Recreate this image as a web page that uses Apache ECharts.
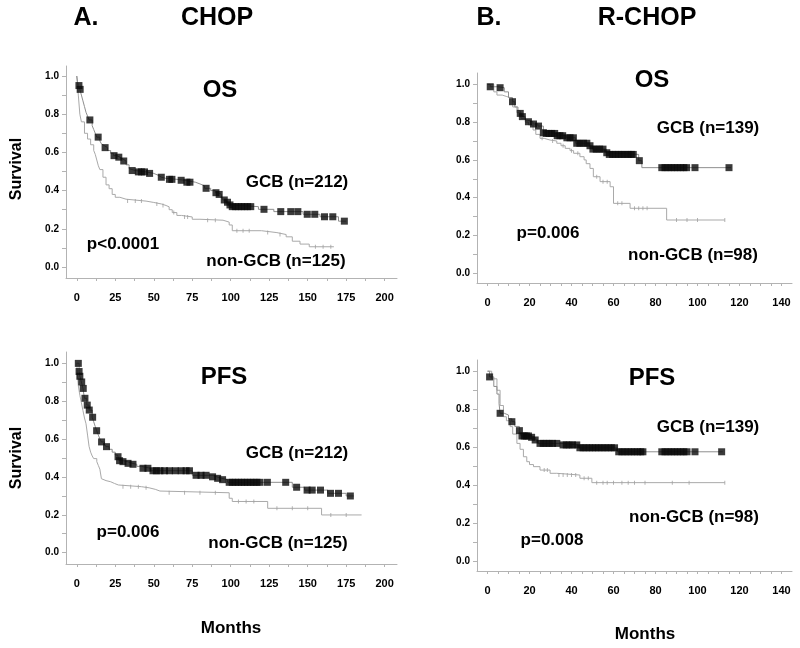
<!DOCTYPE html>
<html>
<head>
<meta charset="utf-8">
<script src="https://cdn.jsdelivr.net/npm/echarts@6/dist/echarts.min.js"></script>
<style>html,body{margin:0;padding:0;background:#fff}#c{width:800px;height:648px}</style>
</head>
<body>
<div id="c"></div>
<script>
// ---------- DATA ----------
const chopTicks = [0, 25, 50, 75, 100, 125, 150, 175, 200];
const rchopTicks = [0, 20, 40, 60, 80, 100, 120, 140];
const survTicks = [0, 0.2, 0.4, 0.6, 0.8, 1.0];

// A. CHOP, OS
const aOsGcbCurve = [[0,1],[0.5,0.97],[1,0.95],[2,0.93],[3,0.90],[4,0.87],[5,0.84],[6,0.81],[7,0.79],[8,0.77],[10,0.74],[11,0.72],[12,0.70],[13,0.68],[15,0.66],[16,0.645],[17,0.635],[18,0.625],[20,0.61],[22,0.595],[24,0.583],[26,0.575],[28,0.565],[30,0.555],[32,0.535],[34,0.515],[35,0.505],[38,0.498],[45,0.49],[50,0.48],[53,0.47],[55,0.464],[58,0.459],[65,0.454],[70,0.444],[77,0.435],[80,0.425],[83,0.412],[87,0.40],[90,0.389],[92,0.38],[94,0.365],[95,0.351],[97,0.339],[99,0.325],[100,0.316],[118,0.302],[128,0.29],[147,0.276],[158,0.263],[170,0.24],[175,0.24]];
const aOsGcbCensor = [[1.4,0.95],[2.2,0.93],[8.5,0.77],[13.9,0.68],[18.4,0.625],[24.2,0.583],[27.3,0.575],[30.5,0.555],[36,0.505],[40,0.498],[42,0.498],[44,0.498],[47.3,0.49],[54.9,0.47],[60.2,0.459],[61.8,0.459],[67.8,0.454],[71.5,0.444],[73.5,0.444],[84,0.412],[90.4,0.389],[92.5,0.38],[95.8,0.351],[97.9,0.339],[99.5,0.325],[101,0.316],[103,0.316],[105,0.316],[107,0.316],[109,0.316],[111,0.316],[113,0.316],[121.6,0.302],[132.5,0.29],[139,0.29],[143.6,0.29],[149.7,0.276],[154.6,0.276],[160.9,0.263],[166.3,0.263],[173.8,0.24]];
const aOsNonCurve = [[0,1],[1,0.9],[2,0.8],[3,0.76],[5,0.70],[7,0.67],[9,0.64],[11,0.61],[12,0.59],[13,0.56],[14,0.53],[15,0.51],[17,0.47],[19,0.43],[21,0.41],[23,0.38],[25,0.365],[28,0.355],[32,0.345],[45,0.338],[50,0.33],[55,0.322],[58,0.315],[60,0.30],[62,0.285],[65,0.27],[68,0.262],[75,0.25],[80,0.245],[95,0.235],[99,0.22],[101,0.19],[120,0.18],[130,0.17],[136,0.158],[140,0.135],[145,0.12],[151,0.106],[167,0.106]];
const aOsNonCensor = [[33,0.345],[38,0.345],[42,0.345],[52,0.33],[56,0.322],[63,0.285],[70,0.262],[72,0.262],[85,0.245],[90,0.245],[104,0.19],[108,0.19],[112,0.19],[124,0.18],[132,0.17],[155,0.106],[160,0.106],[165,0.106]];

// A. CHOP, PFS
const aPfsGcbCurve = [[0,1],[1,0.998],[1.5,0.955],[2,0.93],[3,0.90],[4,0.866],[5,0.814],[6.5,0.778],[8,0.752],[10,0.714],[11,0.69],[12,0.665],[12.9,0.643],[14,0.62],[15,0.60],[16,0.584],[18,0.57],[19,0.559],[21,0.545],[23,0.53],[25,0.515],[26.5,0.506],[27.5,0.485],[30,0.48],[33,0.471],[36,0.466],[39,0.455],[42,0.445],[48,0.432],[75,0.408],[88,0.40],[91,0.392],[94,0.385],[98,0.371],[140,0.345],[148,0.33],[163,0.313],[175,0.299],[180,0.299]];
const aPfsGcbCensor = [[1,0.998],[1.5,0.955],[2,0.93],[3.2,0.90],[4.2,0.866],[5.3,0.814],[6.8,0.778],[8.1,0.752],[10.3,0.714],[12.9,0.643],[16.1,0.584],[19.3,0.559],[26.8,0.506],[27.8,0.485],[30,0.48],[33.3,0.471],[36.5,0.466],[43,0.445],[46.2,0.445],[49.5,0.432],[51.7,0.432],[54,0.432],[57,0.432],[60.2,0.432],[64,0.432],[67.8,0.432],[71,0.432],[73.2,0.432],[77.5,0.408],[80.7,0.408],[84,0.408],[88.2,0.40],[91.5,0.392],[94.7,0.385],[99,0.371],[101,0.371],[103,0.371],[105,0.371],[107,0.371],[109,0.371],[111,0.371],[113,0.371],[115,0.371],[117,0.371],[119,0.371],[123.8,0.371],[135.7,0.371],[142.8,0.345],[149.6,0.33],[152.9,0.33],[158.3,0.33],[164.8,0.313],[170,0.313],[177.7,0.299]];
const aPfsNonCurve = [[0,1],[0.5,0.93],[1,0.88],[2,0.83],[3,0.79],[4,0.75],[5,0.71],[6,0.68],[7,0.62],[8,0.56],[9,0.53],[10,0.51],[11,0.496],[13,0.48],[14,0.46],[15,0.44],[16,0.39],[17,0.38],[19,0.374],[22,0.365],[24.5,0.357],[27,0.348],[42,0.342],[47,0.334],[51,0.325],[54,0.316],[99,0.287],[101,0.27],[124,0.234],[159,0.199],[185,0.199]];
const aPfsNonCensor = [[30,0.348],[35,0.348],[40,0.348],[45,0.342],[60,0.316],[70,0.316],[80,0.316],[90,0.316],[105,0.27],[110,0.27],[115,0.27],[130,0.234],[140,0.234],[150,0.234],[165,0.199],[175,0.199]];

// B. R-CHOP, OS
const bOsGcbCurve = [[0,1],[1.3,0.987],[5,0.982],[8,0.96],[10,0.93],[11.9,0.908],[13,0.88],[14.5,0.86],[15.6,0.846],[16.5,0.829],[18,0.81],[19.2,0.802],[21.6,0.79],[24,0.779],[26.6,0.744],[27.5,0.74],[33,0.728],[37.5,0.717],[42,0.688],[48.5,0.675],[50,0.657],[56.5,0.638],[57.4,0.629],[72,0.596],[73.5,0.559],[116,0.559]];
const bOsGcbCensor = [[1.3,0.987],[6,0.982],[11.9,0.908],[15.6,0.846],[16.6,0.829],[19.5,0.802],[21.9,0.79],[24.3,0.779],[26.6,0.744],[28,0.74],[29.3,0.74],[30.6,0.74],[32,0.74],[33.2,0.728],[34.5,0.728],[35.8,0.728],[37.8,0.717],[39.3,0.717],[40.9,0.717],[42.5,0.688],[44,0.688],[45.7,0.688],[47.3,0.688],[48.8,0.675],[50.2,0.657],[51.8,0.657],[53.4,0.657],[55,0.657],[56.8,0.638],[58,0.629],[59.5,0.629],[61,0.629],[62.5,0.629],[64,0.629],[65.5,0.629],[67,0.629],[68.5,0.629],[69.4,0.629],[72.3,0.596],[83,0.559],[84.5,0.559],[86,0.559],[87.5,0.559],[89,0.559],[90.5,0.559],[92,0.559],[93.5,0.559],[94.8,0.559],[98.8,0.559],[115,0.559]];
const bOsNonCurve = [[0,1],[3,0.96],[4.5,0.943],[7,0.935],[9.2,0.926],[12,0.88],[14,0.85],[16,0.82],[18,0.80],[19.5,0.785],[21.7,0.758],[23,0.735],[25,0.714],[27,0.705],[29.8,0.70],[33,0.688],[35,0.675],[37,0.661],[39.3,0.649],[41,0.635],[44,0.617],[46,0.60],[47,0.58],[48.8,0.555],[50.4,0.511],[53.6,0.485],[58.4,0.458],[60,0.37],[67.9,0.344],[85.3,0.282],[113,0.282]];
const bOsNonCensor = [[26,0.714],[31,0.70],[36,0.675],[40,0.649],[43,0.635],[52,0.511],[55,0.485],[57,0.485],[62,0.37],[64,0.37],[70,0.344],[72,0.344],[74,0.344],[76,0.344],[90,0.282],[95,0.282],[100,0.282],[113,0.282]];

// B. R-CHOP, PFS
const bPfsGcbCurve = [[0,1],[1,0.97],[3,0.92],[4.5,0.88],[5.5,0.83],[6,0.779],[8,0.77],[10,0.75],[11.6,0.735],[13,0.71],[15.2,0.688],[16,0.66],[21,0.653],[22.7,0.639],[24,0.621],[35,0.613],[43.5,0.598],[62,0.577],[112,0.577]];
const bPfsGcbCensor = [[1,0.97],[6,0.779],[11.6,0.735],[15.2,0.688],[16.4,0.66],[17.5,0.66],[18.5,0.66],[19.5,0.66],[21,0.653],[22.7,0.639],[25,0.621],[26.5,0.621],[28,0.621],[29.5,0.621],[31,0.621],[33,0.621],[36,0.613],[37.5,0.613],[39,0.613],[40.5,0.613],[42.5,0.613],[44,0.598],[45.5,0.598],[47,0.598],[48.5,0.598],[50,0.598],[51.5,0.598],[53,0.598],[54.5,0.598],[56,0.598],[57.5,0.598],[59,0.598],[60.5,0.598],[62.5,0.577],[64,0.577],[65.5,0.577],[67,0.577],[68.5,0.577],[70,0.577],[71.5,0.577],[73,0.577],[74,0.577],[83,0.577],[84.5,0.577],[86,0.577],[87.5,0.577],[89,0.577],[90.5,0.577],[92,0.577],[93.5,0.577],[95,0.577],[98.8,0.577],[111.5,0.577]];
const bPfsNonCurve = [[0,1],[2,0.96],[4.5,0.90],[6,0.82],[7.6,0.761],[9,0.74],[10.8,0.709],[12,0.67],[14,0.621],[15.5,0.59],[17.1,0.551],[18.7,0.525],[20,0.51],[21.9,0.499],[25,0.481],[29.8,0.464],[33,0.455],[44,0.438],[49.7,0.415],[113,0.415]];
const bPfsNonCensor = [[27,0.481],[28.5,0.481],[34,0.455],[36,0.455],[38,0.455],[40,0.455],[42,0.455],[46,0.438],[48,0.438],[52,0.415],[55,0.415],[57,0.415],[60,0.415],[64,0.415],[67,0.415],[70,0.415],[75,0.415],[88,0.415],[96,0.415],[113,0.415]];

// ---------- CHART ----------
const FONT = '"Liberation Sans", Arial, Helvetica, sans-serif';
const AXIS_C = '#b3b3b3';
function range(a, b, s) { const r = []; for (let v = a; v <= b + 1e-9; v += s) r.push(+v.toFixed(4)); return r; }

function xAx(gi, min, max, labels, ticks) {
  return { gridIndex: gi, type: 'value', min: min, max: max,
    axisLine: { show: true, onZero: false, lineStyle: { color: AXIS_C, width: 1 } },
    axisTick: { show: true, customValues: ticks, length: 3, inside: false, lineStyle: { color: AXIS_C } },
    axisLabel: { customValues: labels, color: '#000', fontWeight: 'bold', fontSize: 11, fontFamily: FONT, margin: 14 },
    splitLine: { show: false } };
}
function yAx(gi, min, max) {
  return { gridIndex: gi, type: 'value', min: min, max: max,
    axisLine: { show: true, onZero: false, lineStyle: { color: AXIS_C, width: 1 } },
    axisTick: { show: true, customValues: range(0, 1, 0.1), length: 4, lineStyle: { color: AXIS_C } },
    axisLabel: { customValues: survTicks, color: '#000', fontWeight: 'bold', fontSize: 10, fontFamily: FONT, margin: 7,
      formatter: v => v.toFixed(1) },
    splitLine: { show: false } };
}
function curves(gi, gcbCurve, gcbCensor, nonCurve, nonCensor) {
  return [
    { type: 'line', xAxisIndex: gi, yAxisIndex: gi, data: nonCurve, step: 'end', showSymbol: false, symbol: 'none',
      lineStyle: { color: '#a9a9a9', width: 1 }, z: 2 },
    { type: 'scatter', xAxisIndex: gi, yAxisIndex: gi, data: nonCensor, symbol: 'rect', symbolSize: [1, 4],
      itemStyle: { color: '#a0a0a0' }, z: 3 },
    { type: 'line', xAxisIndex: gi, yAxisIndex: gi, data: gcbCurve, step: 'end', showSymbol: false, symbol: 'none',
      lineStyle: { color: '#8e8e8e', width: 1 }, z: 4 },
    { type: 'scatter', xAxisIndex: gi, yAxisIndex: gi, data: gcbCensor, symbol: 'rect', symbolSize: 7,
      itemStyle: { color: '#0a0a0a' }, z: 5 }
  ];
}
function txt(s, x, y, size, rot) {
  return { type: 'text', x: x, y: y, rotation: rot || 0,
    style: { text: s, fill: '#000', align: 'center', verticalAlign: 'middle',
      fontSize: size, fontWeight: 'bold', fontFamily: FONT } };
}

const chart = echarts.init(document.getElementById('c'), null, { renderer: 'canvas' });
chart.setOption({
  animation: false,
  backgroundColor: '#fff',
  grid: [
    { left: 66, top: 66, width: 331, height: 212 },
    { left: 66, top: 352, width: 331, height: 212 },
    { left: 477, top: 73, width: 315, height: 210 },
    { left: 477, top: 360, width: 315, height: 211 }
  ],
  xAxis: [
    xAx(0, -7, 208, chopTicks, range(0, 200, 12.5)),
    xAx(1, -7, 208, chopTicks, range(0, 200, 12.5)),
    xAx(2, -5, 145, rchopTicks, range(0, 140, 5)),
    xAx(3, -5, 145, rchopTicks, range(0, 140, 5))
  ],
  yAxis: [
    yAx(0, -0.0576, 1.0524),
    yAx(1, -0.0596, 1.058),
    yAx(2, -0.0513, 1.0598),
    yAx(3, -0.0488, 1.0588)
  ],
  series: [].concat(
    curves(0, aOsGcbCurve, aOsGcbCensor, aOsNonCurve, aOsNonCensor),
    curves(1, aPfsGcbCurve, aPfsGcbCensor, aPfsNonCurve, aPfsNonCensor),
    curves(2, bOsGcbCurve, bOsGcbCensor, bOsNonCurve, bOsNonCensor),
    curves(3, bPfsGcbCurve, bPfsGcbCensor, bPfsNonCurve, bPfsNonCensor)
  ),
  graphic: [
    txt('A.', 86, 18, 25), txt('CHOP', 217, 18, 25),
    txt('B.', 489, 18, 25), txt('R-CHOP', 647, 18, 25),
    txt('OS', 220, 90, 24), txt('GCB (n=212)', 297, 182, 17), txt('non-GCB (n=125)', 276, 261, 17), txt('p<0.0001', 123, 244, 17),
    txt('PFS', 224, 377, 24), txt('GCB (n=212)', 297, 453, 17), txt('non-GCB (n=125)', 278, 543, 17), txt('p=0.006', 128, 532, 17),
    txt('OS', 652, 80, 24), txt('GCB (n=139)', 708, 128, 17), txt('non-GCB (n=98)', 693, 255, 17), txt('p=0.006', 548, 233, 17),
    txt('PFS', 652, 378, 24), txt('GCB (n=139)', 708, 427, 17), txt('non-GCB (n=98)', 694, 517, 17), txt('p=0.008', 552, 540, 17),
    txt('Survival', 17, 169, 16, Math.PI / 2), txt('Survival', 17, 458, 16, Math.PI / 2),
    txt('Months', 231, 628, 17), txt('Months', 645, 634, 17)
  ]
});
</script>
</body>
</html>
